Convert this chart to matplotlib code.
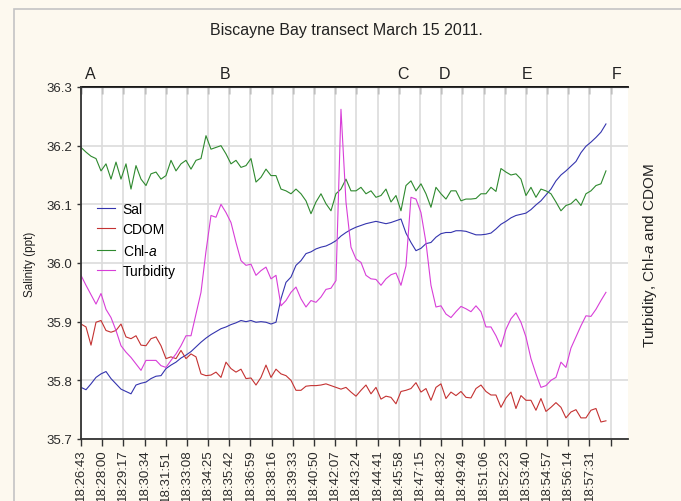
import matplotlib
matplotlib.use("Agg")
import matplotlib.pyplot as plt
import numpy as np
from matplotlib.patches import Rectangle

plt.rcParams['font.family'] = ['Liberation Sans', 'DejaVu Sans']
plt.rcParams['mathtext.fontset'] = 'custom'
plt.rcParams['mathtext.rm'] = 'Liberation Sans'
plt.rcParams['mathtext.it'] = 'Liberation Sans:italic'

# --- transect data, one sample every ~18 s starting 18:26:43 ---
START = 18 * 3600 + 26 * 60 + 43
STEP = 18.17

sal = [35.788, 35.784, 35.794, 35.805, 35.811, 35.815, 35.803, 35.794, 35.785, 35.781,
       35.777, 35.792, 35.795, 35.797, 35.803, 35.807, 35.808, 35.820, 35.826, 35.831,
       35.838, 35.843, 35.849, 35.857, 35.865, 35.872, 35.878, 35.883, 35.888, 35.891,
       35.895, 35.898, 35.902, 35.900, 35.902, 35.899, 35.900, 35.899, 35.896, 35.899,
       35.939, 35.967, 35.976, 35.996, 36.004, 36.016, 36.019, 36.024, 36.027, 36.029,
       36.033, 36.038, 36.046, 36.052, 36.057, 36.061, 36.064, 36.067, 36.069, 36.071,
       36.069, 36.067, 36.069, 36.072, 36.075, 36.051, 36.035, 36.021, 36.025, 36.033,
       36.035, 36.044, 36.050, 36.052, 36.052, 36.055, 36.055, 36.054, 36.051, 36.048,
       36.048, 36.049, 36.051, 36.058, 36.066, 36.071, 36.077, 36.081, 36.083, 36.085,
       36.091, 36.099, 36.106, 36.116, 36.126, 36.140, 36.150, 36.157, 36.165, 36.173,
       36.188, 36.199, 36.206, 36.214, 36.223, 36.237]

cdom = [35.896, 35.891, 35.860, 35.899, 35.902, 35.885, 35.882, 35.885, 35.896, 35.874,
        35.871, 35.876, 35.860, 35.859, 35.871, 35.874, 35.859, 35.837, 35.840, 35.837,
        35.851, 35.837, 35.845, 35.840, 35.811, 35.808, 35.809, 35.814, 35.805, 35.831,
        35.820, 35.814, 35.819, 35.803, 35.804, 35.792, 35.805, 35.826, 35.805, 35.819,
        35.811, 35.808, 35.800, 35.783, 35.783, 35.790, 35.791, 35.791, 35.792, 35.794,
        35.791, 35.788, 35.785, 35.788, 35.780, 35.773, 35.783, 35.792, 35.777, 35.788,
        35.768, 35.773, 35.771, 35.760, 35.781, 35.783, 35.786, 35.796, 35.780, 35.786,
        35.766, 35.788, 35.794, 35.769, 35.780, 35.774, 35.781, 35.771, 35.770, 35.786,
        35.792, 35.781, 35.775, 35.775, 35.754, 35.770, 35.780, 35.752, 35.774, 35.766,
        35.766, 35.749, 35.769, 35.747, 35.754, 35.762, 35.754, 35.736, 35.746, 35.750,
        35.736, 35.736, 35.749, 35.752, 35.729, 35.731]

chl = [36.197, 36.189, 36.182, 36.178, 36.157, 36.169, 36.143, 36.172, 36.143, 36.169,
       36.126, 36.166, 36.143, 36.132, 36.152, 36.155, 36.143, 36.149, 36.175, 36.157,
       36.169, 36.175, 36.160, 36.175, 36.178, 36.217, 36.194, 36.197, 36.200, 36.186,
       36.169, 36.175, 36.163, 36.166, 36.178, 36.138, 36.146, 36.160, 36.149, 36.149,
       36.126, 36.123, 36.118, 36.126, 36.118, 36.106, 36.084, 36.104, 36.118, 36.101,
       36.089, 36.118, 36.126, 36.143, 36.123, 36.123, 36.129, 36.118, 36.123, 36.112,
       36.115, 36.126, 36.104, 36.115, 36.089, 36.132, 36.140, 36.123, 36.135, 36.118,
       36.095, 36.129, 36.118, 36.109, 36.123, 36.123, 36.106, 36.109, 36.109, 36.110,
       36.118, 36.118, 36.129, 36.122, 36.161, 36.155, 36.150, 36.152, 36.143, 36.115,
       36.129, 36.112, 36.126, 36.123, 36.118, 36.104, 36.089, 36.098, 36.101, 36.109,
       36.098, 36.118, 36.123, 36.132, 36.135, 36.157]

turb = [35.979, 35.962, 35.946, 35.930, 35.948, 35.921, 35.907, 35.885, 35.859, 35.848,
        35.839, 35.828, 35.817, 35.834, 35.834, 35.834, 35.825, 35.822, 35.834, 35.845,
        35.859, 35.876, 35.876, 35.913, 35.950, 36.020, 36.081, 36.078, 36.100, 36.086,
        36.069, 36.035, 36.004, 35.996, 35.998, 35.979, 35.987, 35.993, 35.973, 35.979,
        35.927, 35.936, 35.950, 35.959, 35.939, 35.925, 35.936, 35.933, 35.942, 35.955,
        35.957, 35.970, 36.262, 36.104, 36.027, 36.007, 36.001, 35.979, 35.973, 35.972,
        35.962, 35.973, 35.980, 35.983, 35.962, 35.995, 36.112, 36.109, 36.086, 36.035,
        35.962, 35.925, 35.927, 35.913, 35.907, 35.917, 35.926, 35.922, 35.917, 35.927,
        35.917, 35.891, 35.891, 35.876, 35.857, 35.887, 35.905, 35.915, 35.899, 35.874,
        35.837, 35.811, 35.788, 35.791, 35.800, 35.805, 35.831, 35.822, 35.855, 35.874,
        35.893, 35.910, 35.909, 35.921, 35.936, 35.950]

# station markers along the transect (seconds after start)
stations = ['A', 'B', 'C', 'D', 'E', 'F']
station_t = [33, 525, 1170, 1320, 1620, 1948]

TICK_STEP = 77   # seconds between time ticks
N_TICKS = 26

t = np.arange(len(sal)) * STEP


def hms(sec):
    sec = int(round(sec)) + START
    return '%02d:%02d:%02d' % (sec // 3600, (sec // 60) % 60, sec % 60)


fig = plt.figure(figsize=(6.81, 5.02), dpi=100, facecolor='#fdf9ef')
fig.patches.append(Rectangle((14 / 681, -0.1), 1.2, 1 - 10 / 502 + 0.1,
                             transform=fig.transFigure, fill=False,
                             edgecolor='#c4c4c4', linewidth=1.2))

ax = fig.add_axes([81 / 681, 1 - 440 / 502, 547 / 681, 352 / 502])
ax.set_facecolor('white')

ax.plot(t, sal, color='#3434ae', lw=0.8, label='Sal')
ax.plot(t, cdom, color='#c43232', lw=0.8, label='CDOM')
ax.plot(t, chl, color='#2e892e', lw=0.8, label='Chl-$a$')
ax.plot(t, turb, color='#d83ed8', lw=0.8, label='Turbidity')

ax.set_xlim(0, 1988)
ax.set_ylim(35.7, 36.3)
ax.set_yticks(np.arange(35.7, 36.31, 0.1))
ax.set_yticklabels(['%.1f' % v for v in np.arange(35.7, 36.31, 0.1)])

ticks = np.arange(N_TICKS) * TICK_STEP
ax.set_xticks(ticks)
ax.set_xticklabels([hms(s) if i < N_TICKS - 1 else '' for i, s in enumerate(ticks)],
                   rotation=90)
ax.tick_params(axis='x', direction='out', length=5, width=1, labelsize=9.5,
               pad=2, color='#333333', labelcolor='#2a2a2a')
ax.tick_params(axis='y', direction='out', length=3, width=1, labelsize=9.5,
               pad=3, color='#333333', labelcolor='#2a2a2a')

# inward ticks on the top edge
top = ax.secondary_xaxis('top')
top.set_xticks(ticks)
top.tick_params(direction='in', length=5, width=1, labeltop=False, color='#333333')
top.spines['top'].set_linewidth(1.3)

ax.grid(True, color='#dcdcdc', lw=1.2)
ax.set_axisbelow(True)
for side in ['left', 'bottom']:
    ax.spines[side].set_linewidth(1.3)
    ax.spines[side].set_color('#333333')
ax.spines['right'].set_visible(False)
ax.spines['top'].set_color('#333333')

for name, ts in zip(stations, station_t):
    ax.text(ts, 36.3 + 14 / 587, name, ha='center', va='center', fontsize=11.5,
            color='#222222')

ax.legend(loc='upper left', bbox_to_anchor=(0.029, 0.673), frameon=False,
          fontsize=10, borderpad=0, borderaxespad=0, handlelength=1.3,
          handletextpad=0.55, labelspacing=0.45)

fig.text(346 / 681, 1 - 31 / 502, 'Biscayne Bay transect March 15 2011.',
         ha='center', va='center', fontsize=11.5, color='#222222')
fig.text(30 / 681, 1 - 264 / 502, 'Salinity (ppt)', rotation=90,
         ha='center', va='center', fontsize=8.5, color='#222222')
fig.text(650 / 681, 1 - 256 / 502, 'Turbidity, Chl-$a$ and CDOM', rotation=90,
         ha='center', va='center', fontsize=11, color='#222222')

fig.savefig('out.png', dpi=100, facecolor=fig.get_facecolor())
